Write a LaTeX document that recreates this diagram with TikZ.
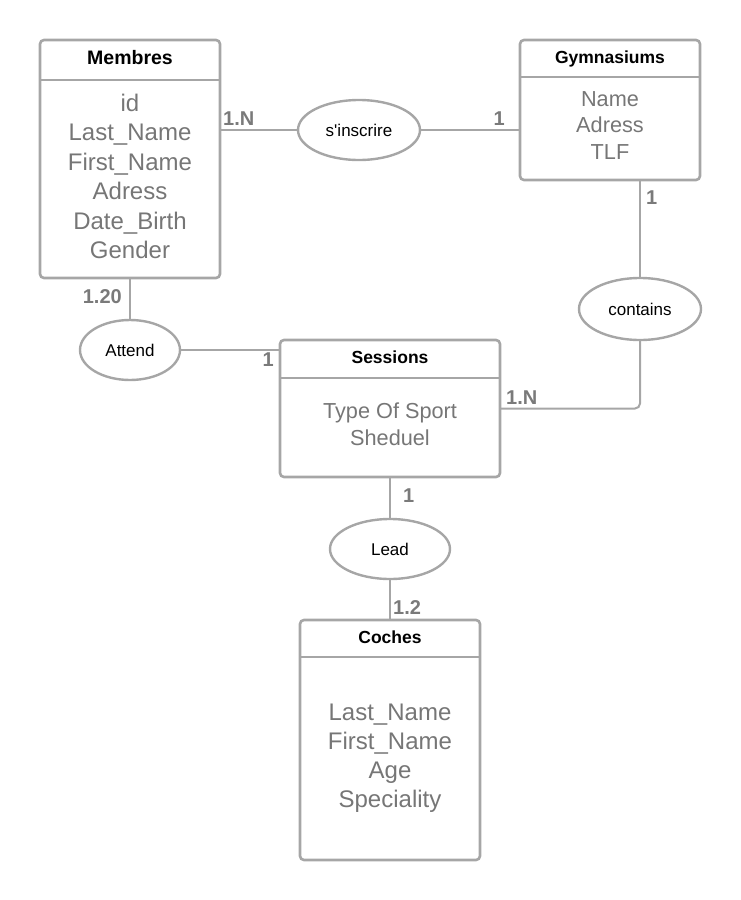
\documentclass[tikz,border=0pt]{standalone}
\usepackage{fontspec}
\setmainfont{Liberation Sans}
\usetikzlibrary{shapes.geometric,positioning}
\definecolor{edgecol}{RGB}{166,166,166}
\definecolor{fieldcol}{RGB}{118,118,118}
\definecolor{cardcol}{RGB}{122,122,122}
\tikzset{
  entity/.style   = {rectangle, rounded corners=4pt, draw=edgecol, line width=2.6pt,
                     inner sep=0pt, outer sep=0pt, minimum width=#1},
  headrule/.style = {draw=edgecol, line width=2.6pt},
  etitle/.style   = {font=\bfseries\fontsize{17.5}{20}\selectfont, inner sep=0pt},
  fields/.style   = {align=center, text=fieldcol, inner sep=0pt},
  relation/.style = {ellipse, draw=edgecol, line width=2.4pt, inner sep=0pt,
                     outer sep=0pt, minimum width=#1, minimum height=60pt,
                     font=\fontsize{17}{20}\selectfont},
  link/.style     = {draw=edgecol, line width=2pt, rounded corners=5pt},
  card/.style     = {font=\bfseries\fontsize{20}{20}\selectfont, text=cardcol,
                     inner sep=0pt},
}
\begin{document}
\begin{tikzpicture}[x=1pt, y=-1pt]
  \useasboundingbox (0,0) rectangle (740,900);

  % entities
  \node[entity=180pt, minimum height=238pt] (membres) at (130,159) {};
  \node[entity=180pt, minimum height=140pt] (gym) at (610,110) {};
  \node[entity=220pt, minimum height=137pt] (sessions) at (390,408.5) {};
  \node[entity=180pt, minimum height=240pt] (coches) at (390,740) {};

  \draw[headrule] ([yshift=-40pt]membres.north west) -- ([yshift=-40pt]membres.north east);
  \draw[headrule] ([yshift=-37pt]gym.north west) -- ([yshift=-37pt]gym.north east);
  \draw[headrule] ([yshift=-38pt]sessions.north west) -- ([yshift=-38pt]sessions.north east);
  \draw[headrule] ([yshift=-37pt]coches.north west) -- ([yshift=-37pt]coches.north east);

  \node[etitle, anchor=base, font=\bfseries\fontsize{19.5}{20}\selectfont] (membrestit) at (130,64) {Membres};
  \node[etitle, anchor=base] (gymtit) at (610,63) {Gymnasiums};
  \node[etitle, anchor=base] (sessionstit) at (390,363) {Sessions};
  \node[etitle, anchor=base] (cochestit) at (390,643) {Coches};

  \node[fields, font=\fontsize{24}{29.4}\selectfont] (membresatt) at (130,176.5)
       {id\\ Last\_Name\\ First\_Name\\ Adress\\ Date\_Birth\\ Gender};
  \node[fields, font=\fontsize{21.7}{26.5}\selectfont] (gymatt) at (610,125.5)
       {Name\\ Adress\\ TLF};
  \node[fields, font=\fontsize{21.7}{27}\selectfont] (sessionsatt) at (390,424.5)
       {Type Of Sport\\ Sheduel};
  \node[fields, font=\fontsize{24}{29}\selectfont] (cochesatt) at (390,758.5)
       {Last\_Name\\ First\_Name\\ Age\\ Speciality};

  % relations
  \node[relation=122pt] (inscrire) at (359,130) {s\textquotesingle inscrire};
  \node[relation=122pt, minimum height=62pt] (contains) at (640,309) {contains};
  \node[relation=100pt] (attend) at (130,350) {Attend};
  \node[relation=120pt] (lead) at (390,549) {Lead};

  \draw[link] (inscrire.west -| membres.east) -- (inscrire.west);
  \draw[link] (inscrire.east) -- (inscrire.east -| gym.west);
  \draw[link] (contains.north |- gym.south) -- (contains.north);
  \draw[link] (contains.south) |- (sessions.east);
  \draw[link] (membres.south) -- (attend.north);
  \draw[link] (attend.east) -- (attend.east -| sessions.west);
  \draw[link] (sessions.south) -- (lead.north);
  \draw[link] (lead.south) -- (coches.north);

  % cardinalities
  \node[card, anchor=base west] (cmi) at (223,125) {1.N};
  \node[card, anchor=base east] (cgi) at (505,125) {1};
  \node[card, anchor=base west] (cgc) at (646,204) {1};
  \node[card, anchor=base west] (csc) at (506,404) {1.N};
  \node[card, anchor=base east] (cma) at (122,303) {1.20};
  \node[card, anchor=base east] (csa) at (274,366) {1};
  \node[card, anchor=base west] (csl) at (403,502) {1};
  \node[card, anchor=base west] (ccl) at (393,614) {1.2};
\end{tikzpicture}
\end{document}
